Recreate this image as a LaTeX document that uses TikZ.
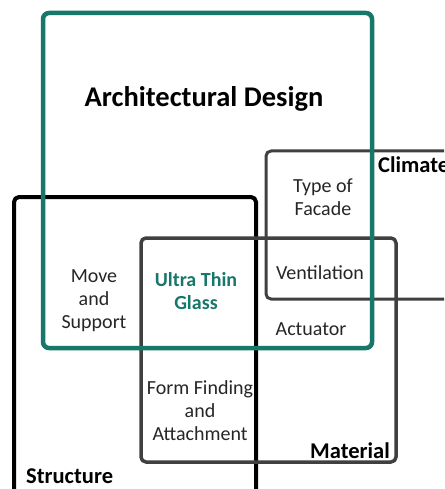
\documentclass[tikz,border=0pt]{standalone}
\usepackage{fontspec}
\setmainfont{Carlito}
\definecolor{teal1}{HTML}{17776A}
\definecolor{gray1}{HTML}{404040}
\begin{document}
\begin{tikzpicture}[x=1pt,y=-1pt,
  box/.style={rounded corners=5pt,line join=round},
  lbl/.style={font=\fontsize{20}{23}\selectfont,align=center,inner sep=0pt,text=black!85},
  head/.style={font=\fontsize{22.5}{26}\selectfont\bfseries,inner sep=0pt}]
\useasboundingbox (0,0) rectangle (444,489);
\fill[white] (0,0) rectangle (444,489);
\clip (0,0) rectangle (444,489);
% Climate
\draw[box,gray1,line width=3pt] (470,151) -- (266,151) -- (266,299) -- (470,299);
% Structure
\draw[box,black,line width=4pt] (14,500) -- (14,197) -- (256,197) -- (256,500);
% Material
\draw[box,gray1,line width=3.5pt] (141,238) rectangle (396,462);
% Architectural Design
\draw[box,teal1,line width=4.5pt,rounded corners=6pt] (43,13) rectangle (372,348);
% texts
\node[font=\fontsize{28.5}{32}\selectfont\bfseries,inner sep=0pt] (ad) at (204,99) {Architectural Design};
\node[head,anchor=west] (cl) at (378,165) {Climate};
\node[lbl] (tf) at (323,197) {Type of\\Facade};
\node[lbl] (ve) at (320,273) {Ventilation};
\node[lbl] (ac) at (311,329) {Actuator};
\node[lbl] (ms) at (94,301) {Move\\and\\Support};
\node[lbl,font=\fontsize{20}{23}\selectfont\bfseries,text=teal1] (ut) at (196,291) {Ultra Thin\\Glass};
\node[lbl] (ff) at (200,411) {Form Finding\\and\\Attachment};
\node[head,anchor=east] (ma) at (390,451) {Material};
\node[head,anchor=west] (st) at (26,476) {Structure};
\end{tikzpicture}
\end{document}
